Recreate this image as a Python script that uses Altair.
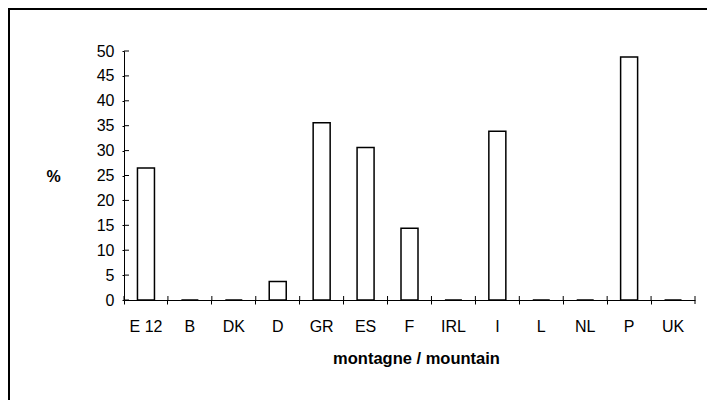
import altair as alt
import pandas as pd

categories = ["E 12", "B", "DK", "D", "GR", "ES", "F", "IRL", "I", "L", "NL", "P", "UK"]
values = [26.5, 0, 0, 3.7, 35.6, 30.6, 14.4, 0, 33.9, 0, 0, 48.8, 0]
y_ticks = [0, 5, 10, 15, 20, 25, 30, 35, 40, 45, 50]

W, H = 571, 249
FONT = "Liberation Sans"

df = pd.DataFrame({"cat": categories, "v": values})
df_ticks = pd.DataFrame({"v": y_ticks})
df_cat = pd.DataFrame({"cat": categories})
df_one = pd.DataFrame({"k": [0]})

xscale = alt.Scale(domain=categories, paddingInner=0, paddingOuter=0)
yscale = alt.Scale(domain=[0, 50], nice=False)

xaxis = alt.Axis(title="montagne / mountain", labelAngle=0, bandPosition=0,
                 tickSize=4, labelPadding=14, labelFontSize=16, labelOverlap=False,
                 titleFontSize=16.5, titleFontWeight="bold",
                 titleX=292, titleY=58, titleBaseline="middle", titleAlign="center")
yaxis = alt.Axis(title="%", values=y_ticks, tickSize=2, labelPadding=8,
                 labelFontSize=16, labelOverlap=False, grid=False, titleAngle=0,
                 titleX=-71, titleY=125, titleAlign="center", titleBaseline="middle",
                 titleFontSize=16, titleFontWeight="bold")

bars = alt.Chart(df).mark_bar(fill="white", stroke="black", strokeWidth=1.5, width=17).encode(
    x=alt.X("cat:N", scale=xscale, sort=categories, axis=xaxis),
    y=alt.Y("v:Q", scale=yscale, axis=yaxis),
)

yinner = alt.Chart(df_ticks).mark_rule(color="black", strokeWidth=1).encode(
    y=alt.Y("v:Q", scale=yscale, axis=yaxis),
    x=alt.value(0), x2=alt.value(5),
)

xinner = alt.Chart(df_cat).mark_rule(color="black", strokeWidth=1).encode(
    x=alt.X("cat:N", scale=xscale, sort=categories, bandPosition=0, axis=xaxis),
    y=alt.value(H), y2=alt.value(H - 4),
)

xend = alt.Chart(df_one).mark_rule(color="black", strokeWidth=1).encode(
    x=alt.value(W), y=alt.value(H - 4), y2=alt.value(H + 4),
)

top_border = alt.Chart(df_one).mark_rect(color="black").encode(
    x=alt.value(-116), x2=alt.value(W + 12), y=alt.value(-43), y2=alt.value(-41),
)
left_border = alt.Chart(df_one).mark_rect(color="black").encode(
    x=alt.value(-116), x2=alt.value(-114), y=alt.value(-43), y2=alt.value(H + 100),
)

chart = alt.layer(bars, yinner, xinner, xend, top_border, left_border).properties(
    width=W, height=H,
    autosize=alt.AutoSizeParams(type="none"),
    padding={"left": 116, "top": 43, "right": 12, "bottom": 100},
).configure_view(stroke=None).configure_axis(
    domainColor="black", tickColor="black", labelColor="black", titleColor="black",
    labelFont=FONT, titleFont=FONT, domainWidth=1, tickWidth=1,
).configure_axisY(labelOverlap=False)

chart.save("out.html", embed_options={"renderer": "svg", "actions": False})
